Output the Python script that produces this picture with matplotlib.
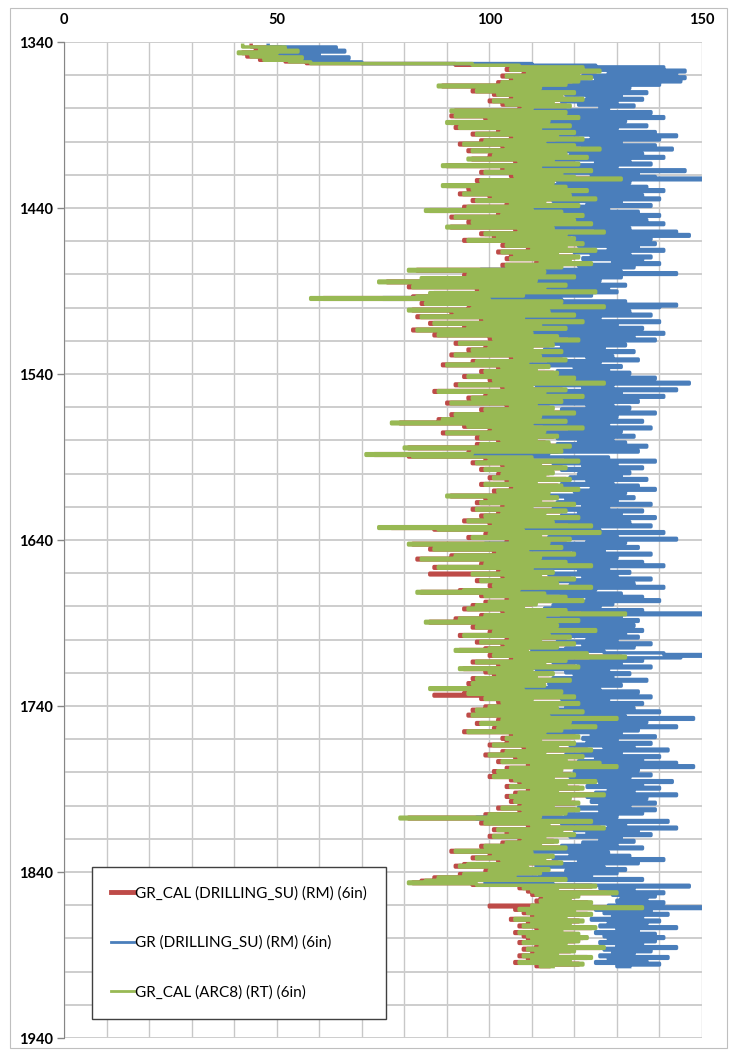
import numpy as np
import matplotlib.pyplot as plt
from matplotlib.patches import Rectangle

plt.rcParams['font.family'] = ['Lato', 'DejaVu Sans']

# depth samples every 1 m, starting at 1342 m; rows below cover 20 m each
top_depth = 1342

gr_cal_arc8 = [
    42, 52, 46, 55, 41, 50, 44, 56, 47, 53, 58, 96, 107, 122, 105, 126, 109, 121,
    104, 124, 106, 121, 103, 118, 88, 112, 104, 97, 120, 102, 117, 106, 122, 101, 115, 104, 119, 108,
    110, 91, 118, 105, 92, 121, 100, 114, 90, 108, 119, 93, 112, 103, 120, 97, 116, 106, 122, 99,
    113, 94, 120, 104, 126, 96, 110, 118, 101, 123, 95, 115, 107, 121, 89, 112, 104, 124, 99, 117,
    106, 120, 131, 98, 115, 104, 89, 118, 96, 123, 107, 94, 119, 101, 125, 97, 113, 105, 121, 95,
    110, 85, 117, 103, 122, 92, 111, 120, 96, 124, 104, 90, 115, 107, 127, 99, 118, 102, 120, 95,
    108, 122, 104, 118, 110, 125, 103, 116, 106, 121, 105, 119, 112, 124, 104, 117, 107, 81, 113, 102,
    95, 120, 84, 111, 74, 106, 118, 82, 113, 98, 125, 86, 108, 83, 58, 100, 117, 85, 110, 127,
    96, 81, 114, 92, 120, 84, 108, 99, 122, 87, 112, 95, 118, 83, 105, 110, 88, 116, 101, 121,
    104, 93, 115, 100, 110, 96, 117, 102, 92, 112, 106, 118, 97, 109, 90, 114, 103, 111, 99, 116,
    107, 95, 120, 101, 112, 127, 93, 110, 104, 118, 88, 113, 100, 122, 96, 109, 117, 91, 111, 105,
    115, 99, 108, 120, 92, 112, 104, 89, 118, 77, 110, 95, 122, 101, 113, 90, 107, 116, 98, 111,
    103, 114, 98, 119, 80, 106, 117, 96, 71, 82, 110, 100, 121, 97, 112, 104, 118, 99, 109, 115,
    103, 113, 101, 119, 105, 111, 99, 117, 106, 121, 102, 114, 108, 90, 116, 100, 112, 98, 120, 104,
    110, 97, 118, 103, 113, 99, 121, 106, 95, 115, 101, 124, 74, 88, 108, 126, 100, 112, 96, 119,
    105, 114, 81, 95, 117, 87, 109, 102, 120, 92, 112, 84, 106, 118, 99, 124, 88, 110, 103, 115,
    96, 112, 104, 120, 98, 109, 116, 101, 124, 107, 94, 83, 113, 99, 118, 105, 122, 100, 111, 97,
    108, 95, 118, 104, 132, 99, 113, 93, 121, 85, 106, 116, 97, 110, 125, 101, 114, 94, 119, 105,
    112, 98, 120, 104, 116, 100, 92, 109, 123, 101, 132, 106, 118, 97, 113, 103, 121, 93, 110, 100,
    115, 102, 111, 97, 119, 105, 96, 113, 100, 86, 108, 117, 95, 104, 120, 99, 110, 103, 121, 107,
    100, 116, 97, 122, 108, 96, 114, 130, 103, 119, 98, 111, 125, 102, 117, 95, 113, 106, 121, 104,
    112, 105, 120, 101, 116, 109, 124, 104, 113, 100, 122, 107, 118, 103, 126, 110, 130, 105, 117, 102,
    109, 120, 101, 115, 106, 125, 108, 118, 105, 122, 110, 116, 107, 127, 105, 119, 111, 106, 121, 108,
    115, 103, 121, 108, 118, 100, 112, 79, 107, 124, 99, 114, 110, 127, 102, 117, 105, 120, 101, 113,
    108, 116, 104, 112, 99, 118, 106, 92, 110, 101, 115, 97, 113, 103, 117, 95, 93, 109, 114, 100,
    112, 94, 106, 88, 118, 85, 81, 97, 125, 108, 116, 110, 130, 111, 121, 113, 119, 112, 124, 114,
    110, 136, 107, 120, 109, 124, 111, 118, 106, 122, 110, 119, 108, 125, 112, 117, 107, 121, 109, 123,
    110, 121, 108, 118, 112, 127, 109, 120, 111, 116, 108, 124, 110, 119, 107, 122, 112, 115,
]

gr_drilling = [
    48, 64, 53, 66, 50, 60, 52, 67, 55, 62, 70, 110, 125, 141, 122, 146, 128, 144,
    122, 146, 125, 145, 120, 140, 105, 133, 121, 112, 137, 118, 131, 123, 136, 117, 130, 121, 134, 126,
    128, 107, 138, 122, 109, 141, 117, 132, 106, 125, 137, 111, 130, 120, 139, 114, 144, 124, 140, 116,
    131, 112, 139, 122, 143, 114, 128, 136, 119, 141, 113, 133, 125, 138, 106, 130, 121, 146, 117, 135,
    124, 139, 150, 116, 133, 122, 107, 137, 114, 141, 125, 112, 136, 119, 140, 115, 131, 123, 138, 113,
    128, 103, 135, 121, 140, 110, 129, 137, 114, 141, 122, 108, 133, 125, 144, 117, 147, 120, 138, 113,
    126, 139, 121, 135, 128, 141, 120, 133, 124, 138, 122, 136, 129, 140, 121, 134, 125, 98, 131, 144,
    112, 131, 100, 126, 92, 122, 132, 99, 128, 115, 130, 103, 124, 100, 75, 117, 132, 102, 144, 140,
    114, 98, 133, 110, 138, 101, 126, 117, 140, 105, 130, 113, 136, 100, 123, 141, 106, 134, 119, 139,
    121, 110, 132, 117, 127, 113, 134, 119, 109, 129, 123, 135, 114, 126, 107, 131, 120, 128, 116, 133,
    125, 113, 139, 119, 131, 147, 111, 129, 122, 144, 106, 131, 118, 141, 114, 127, 135, 109, 129, 123,
    133, 117, 126, 139, 110, 130, 122, 107, 136, 95, 128, 113, 138, 119, 131, 108, 125, 134, 116, 129,
    121, 132, 116, 137, 98, 124, 135, 114, 89, 100, 128, 118, 139, 115, 130, 122, 136, 117, 127, 133,
    121, 131, 119, 137, 123, 129, 117, 135, 124, 139, 120, 132, 126, 108, 134, 118, 130, 116, 138, 122,
    128, 115, 136, 121, 131, 117, 139, 124, 113, 133, 119, 138, 92, 106, 126, 141, 118, 130, 114, 144,
    123, 132, 99, 113, 135, 105, 127, 120, 138, 110, 130, 102, 124, 136, 117, 141, 106, 128, 121, 133,
    114, 130, 122, 138, 116, 127, 134, 119, 141, 125, 112, 101, 131, 117, 136, 123, 140, 118, 129, 115,
    126, 113, 136, 122, 150, 117, 131, 111, 135, 103, 124, 134, 115, 128, 136, 119, 132, 112, 135, 123,
    130, 116, 138, 122, 134, 118, 110, 127, 141, 150, 145, 124, 136, 115, 131, 121, 138, 111, 128, 118,
    133, 120, 129, 115, 137, 123, 114, 131, 118, 104, 126, 135, 113, 122, 138, 117, 128, 121, 136, 125,
    118, 134, 115, 140, 126, 114, 132, 148, 121, 137, 116, 129, 144, 120, 135, 113, 131, 124, 139, 122,
    130, 123, 138, 119, 134, 127, 142, 122, 131, 118, 140, 125, 136, 121, 144, 128, 148, 123, 135, 120,
    127, 138, 119, 133, 124, 143, 126, 136, 123, 140, 128, 134, 125, 144, 123, 137, 129, 124, 139, 126,
    133, 121, 139, 126, 136, 118, 130, 97, 125, 142, 117, 132, 128, 144, 120, 135, 123, 138, 119, 131,
    126, 134, 122, 130, 117, 136, 124, 110, 128, 119, 133, 115, 141, 121, 135, 113, 111, 127, 132, 118,
    130, 112, 124, 106, 136, 103, 99, 115, 147, 126, 134, 128, 141, 129, 139, 131, 137, 130, 141, 132,
    128, 150, 125, 138, 127, 142, 129, 136, 124, 140, 128, 137, 126, 144, 130, 135, 125, 139, 127, 141,
    128, 139, 126, 136, 130, 144, 127, 138, 129, 134, 126, 142, 128, 137, 125, 140, 130, 133,
]

gr_cal_drilling = [
    44, 51, 45, 54, 42, 49, 43, 55, 46, 52, 57, 92, 106, 121, 104, 125, 108, 120,
    103, 123, 105, 120, 102, 117, 89, 111, 103, 96, 119, 101, 116, 105, 121, 100, 114, 103, 118, 107,
    109, 92, 117, 104, 91, 120, 99, 113, 91, 107, 118, 92, 111, 102, 119, 96, 115, 105, 121, 98,
    112, 93, 119, 103, 125, 95, 109, 117, 100, 122, 96, 114, 106, 120, 90, 111, 103, 123, 98, 116,
    105, 119, 130, 97, 114, 103, 90, 117, 95, 122, 106, 93, 118, 100, 124, 96, 112, 104, 120, 94,
    109, 86, 116, 102, 121, 91, 110, 119, 95, 123, 103, 91, 114, 106, 126, 98, 117, 101, 119, 94,
    107, 121, 103, 117, 109, 124, 102, 115, 105, 120, 104, 118, 111, 123, 103, 116, 106, 83, 112, 101,
    94, 119, 85, 110, 76, 105, 117, 81, 112, 97, 124, 87, 107, 82, 61, 99, 116, 84, 109, 126,
    95, 82, 113, 91, 119, 83, 107, 98, 121, 86, 111, 94, 117, 82, 104, 109, 87, 115, 100, 120,
    103, 92, 114, 99, 109, 95, 116, 101, 91, 111, 105, 117, 96, 108, 89, 113, 102, 110, 98, 115,
    106, 94, 119, 100, 111, 126, 92, 109, 103, 117, 87, 112, 99, 121, 95, 108, 116, 90, 110, 104,
    114, 98, 107, 119, 91, 111, 103, 88, 117, 79, 109, 94, 121, 100, 112, 89, 106, 115, 97, 110,
    102, 113, 97, 118, 81, 105, 116, 95, 73, 81, 109, 99, 120, 96, 111, 103, 117, 98, 108, 114,
    102, 112, 100, 118, 104, 110, 98, 116, 105, 120, 101, 113, 107, 91, 115, 99, 111, 97, 119, 103,
    109, 96, 117, 102, 112, 98, 120, 105, 94, 114, 100, 123, 77, 87, 107, 125, 99, 111, 95, 118,
    104, 113, 82, 94, 116, 86, 108, 101, 119, 91, 111, 83, 105, 117, 98, 123, 87, 109, 102, 114,
    86, 111, 103, 119, 97, 108, 115, 100, 123, 106, 93, 84, 112, 98, 117, 104, 121, 99, 110, 96,
    107, 94, 117, 103, 131, 98, 112, 92, 120, 86, 105, 115, 96, 109, 124, 100, 113, 93, 118, 104,
    111, 97, 119, 103, 115, 99, 93, 108, 122, 100, 131, 105, 117, 96, 112, 102, 120, 94, 109, 99,
    114, 101, 110, 96, 118, 104, 95, 112, 99, 87, 107, 116, 94, 87, 119, 98, 109, 102, 120, 106,
    99, 115, 96, 121, 107, 95, 113, 129, 102, 118, 97, 110, 124, 101, 116, 94, 112, 105, 120, 103,
    111, 104, 119, 100, 115, 108, 123, 103, 112, 99, 121, 106, 117, 102, 125, 109, 129, 104, 116, 101,
    108, 119, 100, 114, 105, 124, 107, 117, 104, 121, 109, 115, 106, 126, 104, 118, 110, 105, 120, 107,
    114, 102, 120, 107, 117, 99, 111, 81, 106, 123, 98, 113, 109, 126, 101, 116, 104, 119, 100, 112,
    107, 115, 103, 111, 98, 117, 105, 91, 109, 100, 114, 96, 112, 102, 116, 94, 92, 108, 113, 99,
    111, 93, 105, 87, 117, 84, 82, 96, 124, 107, 115, 109, 129, 110, 120, 112, 118, 111, 123, 113,
    100, 135, 106, 119, 108, 123, 110, 117, 105, 121, 109, 118, 107, 124, 111, 116, 106, 120, 108, 122,
    109, 120, 107, 117, 111, 126, 108, 119, 110, 115, 107, 123, 109, 118, 106, 121, 111, 114,
]

labels = ['GR_CAL (DRILLING_SU) (RM) (6in)', 'GR (DRILLING_SU) (RM) (6in)', 'GR_CAL (ARC8) (RT) (6in)']
colors = ['#be4b48', '#4a7ebb', '#98b954']

assert len(gr_cal_arc8) == len(gr_drilling) == len(gr_cal_drilling), \
    (len(gr_cal_arc8), len(gr_drilling), len(gr_cal_drilling))
depth = np.arange(top_depth, top_depth + len(gr_cal_arc8))

fig = plt.figure(figsize=(7.31, 10.5), dpi=100)
ax = fig.add_axes([64 / 731, 12 / 1050, 638 / 731, 996 / 1050])

series = [gr_cal_drilling, gr_drilling, gr_cal_arc8]
for vals, lab, col in zip(series, labels, colors):
    ax.plot(vals, depth, color=col, lw=2.5, label=lab, drawstyle='steps-pre')

ax.set_xlim(0, 150)
ax.set_ylim(1940, 1340)

ax.xaxis.tick_top()
ax.set_xticks([0, 50, 100, 150])
ax.set_xticks(np.arange(0, 151, 10), minor=True)
ax.set_yticks(np.arange(1340, 1941, 100))
ax.set_yticks(np.arange(1340, 1941, 20), minor=True)
ax.tick_params(axis='x', which='both', length=0, pad=11, labelsize=10.5)
ax.tick_params(axis='y', which='major', length=5, width=1, color='#868686', pad=3, labelsize=10.5)
ax.tick_params(axis='y', which='minor', length=0)
for t in ax.get_xticklabels() + ax.get_yticklabels():
    t.set_fontweight('bold')

ax.grid(True, axis='x', which='both', color='#c8c8c8', lw=1.0)
ax.grid(True, axis='y', which='both', color='#cdcdcd', lw=1.4)
ax.set_axisbelow(True)
for s in ['top', 'right', 'bottom']:
    ax.spines[s].set_visible(False)
ax.spines['left'].set_color('#868686')

leg = ax.legend(loc='upper left', bbox_to_anchor=(28 / 638, 171 / 996), borderaxespad=0,
                fontsize=11, labelspacing=2.3, handlelength=1.5, handletextpad=0.05,
                borderpad=1.25, fancybox=False, framealpha=1, edgecolor='#404040')
leg.get_frame().set_linewidth(1.0)
for h, w in zip(leg.legend_handles, [3.5, 2.0, 2.0]):
    h.set_linewidth(w)

# chart area border
fig.patches.append(Rectangle((10 / 731, 2 / 1050), 717 / 731, 1040 / 1050,
                             transform=fig.transFigure, fill=False, ec='#bfbfbf', lw=0.8))

fig.savefig('out.png', dpi=100)
